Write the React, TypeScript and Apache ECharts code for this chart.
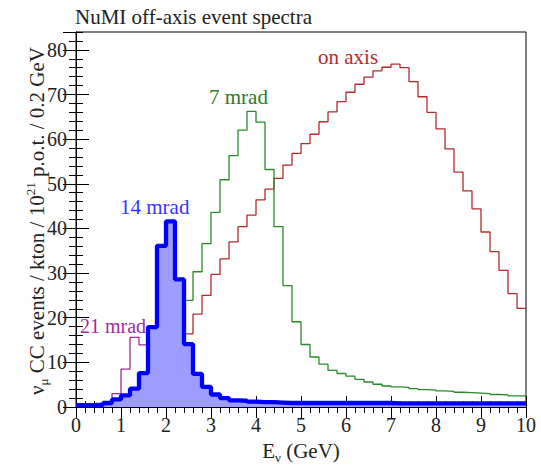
import React, { useEffect, useRef } from "react";
import * as echarts from "echarts";

// Bin width 0.2 GeV, 50 bins from 0 to 10 GeV
const BIN_WIDTH = 0.2;
const X_TICKS = [0, 1, 2, 3, 4, 5, 6, 7, 8, 9, 10];
const Y_TICKS = [0, 10, 20, 30, 40, 50, 60, 70, 80];

const onAxis = [
  0.2, 0.3, 0.4, 0.6, 0.9, 1.3, 2.0, 3.0, 4.5, 6.5,
  9.0, 12.0, 16.4, 20.8, 25.0, 29.7, 33.2, 37.0, 40.4, 43.0,
  46.4, 48.8, 51.2, 54.2, 56.8, 59.0, 61.1, 63.9, 66.1, 68.4,
  70.5, 72.3, 73.9, 75.3, 76.1, 76.8, 76.0, 72.9, 69.5, 66.0,
  62.3, 57.8, 52.6, 48.4, 44.4, 39.2, 34.8, 30.6, 25.4, 22.1,
];

const mrad7 = [
  0.2, 0.3, 0.4, 0.6, 1.0, 1.5, 2.5, 4.0, 7.0, 11.0,
  15.0, 19.0, 23.9, 30.3, 36.6, 43.6, 50.9, 56.3, 62.0, 66.2,
  63.8, 53.2, 40.4, 27.2, 19.1, 14.0, 11.2, 9.6, 8.2, 7.5,
  6.9, 6.2, 5.6, 5.1, 4.7, 4.5, 4.4, 4.1, 3.9, 3.8,
  3.6, 3.5, 3.3, 3.2, 3.1, 3.0, 2.8, 2.7, 2.5, 2.5,
];

const mrad14 = [
  0.4, 0.4, 0.5, 0.9, 1.7, 2.6, 4.1, 7.6, 17.9, 36.1,
  41.6, 28.6, 14.1, 7.4, 4.5, 2.8, 2.0, 1.5, 1.4, 1.2,
  1.1, 1.1, 1.0, 0.9, 0.9, 0.9, 0.9, 0.9, 0.9, 0.9,
  0.9, 0.9, 0.9, 0.9, 0.9, 0.8, 0.8, 0.8, 0.8, 0.8,
  0.8, 0.8, 0.8, 0.8, 0.8, 0.8, 0.8, 0.8, 0.8, 0.8,
];

const mrad21 = [
  0.2, 0.3, 0.5, 0.8, 3.0, 8.5, 15.6, 13.9, 9.0, 5.0,
  3.0, 2.0, 1.5, 1.2, 1.0, 0.9, 0.8, 0.7, 0.7, 0.6,
  0.6, 0.6, 0.5, 0.5, 0.5, 0.5, 0.5, 0.5, 0.5, 0.5,
  0.5, 0.5, 0.5, 0.5, 0.5, 0.4, 0.4, 0.4, 0.4, 0.4,
  0.4, 0.4, 0.4, 0.4, 0.4, 0.4, 0.4, 0.4, 0.4, 0.4,
];

const SERIES_NAMES = ["on axis", "7 mrad", "21 mrad", "14 mrad"];

const FONT = "'Liberation Serif', 'Times New Roman', serif";

function histPoints(values: number[]): number[][] {
  const pts = values.map((v, i) => [+(i * BIN_WIDTH).toFixed(2), v]);
  pts.push([+(values.length * BIN_WIDTH).toFixed(2), values[values.length - 1]]);
  return pts;
}

export default function App() {
  const ref = useRef<HTMLDivElement>(null);

  useEffect(() => {
    if (!ref.current) return;
    const chart = echarts.init(ref.current, undefined, { renderer: "svg" });

    const axisLine = { show: true, lineStyle: { color: "#000", width: 1 } };
    const xMin = X_TICKS[0];
    const xMax = X_TICKS[X_TICKS.length - 1];
    const yMax = 84;

    const xMajor = (pos: "bottom" | "top", labels: boolean) => ({
      type: "value",
      position: pos,
      min: xMin,
      max: xMax,
      interval: 1,
      axisLine,
      axisTick: { show: true, inside: true, length: 11, lineStyle: { color: "#000" } },
      axisLabel: {
        show: labels,
        margin: 8,
        color: "#222",
        fontFamily: FONT,
        fontSize: 20,
      },
      splitLine: { show: false },
    });
    const xMinor = (pos: "bottom" | "top") => ({
      type: "value",
      position: pos,
      min: xMin,
      max: xMax,
      interval: 0.2,
      axisLine: { show: false },
      axisTick: { show: true, inside: true, length: 6, lineStyle: { color: "#000" } },
      axisLabel: { show: false },
      splitLine: { show: false },
    });
    const yMajor = (pos: "left" | "right", labels: boolean) => ({
      type: "value",
      position: pos,
      min: 0,
      max: yMax,
      interval: 10,
      axisLine,
      axisTick: { show: true, inside: true, length: 13, lineStyle: { color: "#000" } },
      axisLabel: {
        show: labels,
        showMaxLabel: false,
        margin: 9,
        color: "#222",
        fontFamily: FONT,
        fontSize: 20,
      },
      splitLine: { show: false },
    });
    const yMinor = (pos: "left" | "right") => ({
      type: "value",
      position: pos,
      min: 0,
      max: yMax,
      interval: 2,
      axisLine: { show: false },
      axisTick: { show: true, inside: true, length: 7, lineStyle: { color: "#000" } },
      axisLabel: { show: false },
      splitLine: { show: false },
    });

    const thin = (name: string, values: number[], color: string) => ({
      name,
      type: "line",
      step: "end",
      showSymbol: false,
      xAxisIndex: 0,
      yAxisIndex: 0,
      z: 2,
      data: histPoints(values),
      lineStyle: { color, width: 1.3 },
      silent: true,
    });

    const option: any = {
      animation: false,
      backgroundColor: "#fff",
      grid: {
        left: 76,
        right: 15,
        top: 32,
        bottom: 58,
        show: true,
        borderColor: "#000",
        borderWidth: 1,
        backgroundColor: "transparent",
      },
      xAxis: [xMajor("bottom", true), xMinor("bottom"), xMajor("top", false), xMinor("top")],
      yAxis: [yMajor("left", true), yMinor("left"), yMajor("right", false), yMinor("right")],
      series: [
        thin(SERIES_NAMES[0], onAxis, "#b22a2a"),
        thin(SERIES_NAMES[1], mrad7, "#2a8a2a"),
        thin(SERIES_NAMES[2], mrad21, "#a02aa0"),
        {
          name: SERIES_NAMES[3],
          type: "line",
          step: "end",
          showSymbol: false,
          xAxisIndex: 0,
          yAxisIndex: 0,
          z: 5,
          data: histPoints(mrad14),
          lineStyle: { color: "#0000ff", width: 4.3 },
          areaStyle: { color: "#9d9dff", opacity: 1, origin: "start" },
          silent: true,
        },
      ],
      graphic: [
        {
          type: "text",
          left: 75,
          top: 6,
          style: {
            text: "NuMI off-axis event spectra",
            fontFamily: FONT,
            fontSize: 21,
            fill: "#222",
          },
        },
        {
          type: "text",
          x: 37,
          y: 221,
          rotation: Math.PI / 2,
          style: {
            text: "{a|ν}{s|μ}{a| CC events / kton / 10}{p|21}{a| p.o.t. / 0.2 GeV}",
            align: "center",
            verticalAlign: "middle",
            fill: "#222",
            rich: {
              a: { fontFamily: FONT, fontSize: 21, lineHeight: 26, fill: "#222" },
              s: { fontFamily: FONT, fontSize: 13, lineHeight: 26, verticalAlign: "bottom", fill: "#222" },
              p: { fontFamily: FONT, fontSize: 13, lineHeight: 26, verticalAlign: "top", fill: "#222" },
            },
          },
        },
        {
          type: "text",
          x: 301,
          y: 451,
          style: {
            text: "{a|E}{s|ν}{a| (GeV)}",
            align: "center",
            verticalAlign: "middle",
            fill: "#222",
            rich: {
              a: { fontFamily: FONT, fontSize: 21, lineHeight: 26, fill: "#222" },
              s: { fontFamily: FONT, fontSize: 13, lineHeight: 26, verticalAlign: "bottom", fill: "#222" },
            },
          },
        },
        {
          type: "text",
          x: 318,
          y: 57,
          style: { text: "on axis", fontFamily: FONT, fontSize: 21, fill: "#b22a2a", verticalAlign: "middle" },
        },
        {
          type: "text",
          x: 209,
          y: 97,
          style: { text: "7 mrad", fontFamily: FONT, fontSize: 21, fill: "#2a7a2a", verticalAlign: "middle" },
        },
        {
          type: "text",
          x: 120,
          y: 207,
          style: { text: "14 mrad", fontFamily: FONT, fontSize: 21, fill: "#3333ff", verticalAlign: "middle" },
        },
        {
          type: "text",
          x: 80,
          y: 326,
          style: { text: "21 mrad", fontFamily: FONT, fontSize: 20, fill: "#a02aa0", verticalAlign: "middle" },
        },
      ],
    };

    chart.setOption(option);
    return () => chart.dispose();
  }, []);

  return (
    <div
      ref={ref}
      style={{ position: "fixed", left: 0, top: 0, width: 541, height: 465, background: "#fff" }}
    />
  );
}
